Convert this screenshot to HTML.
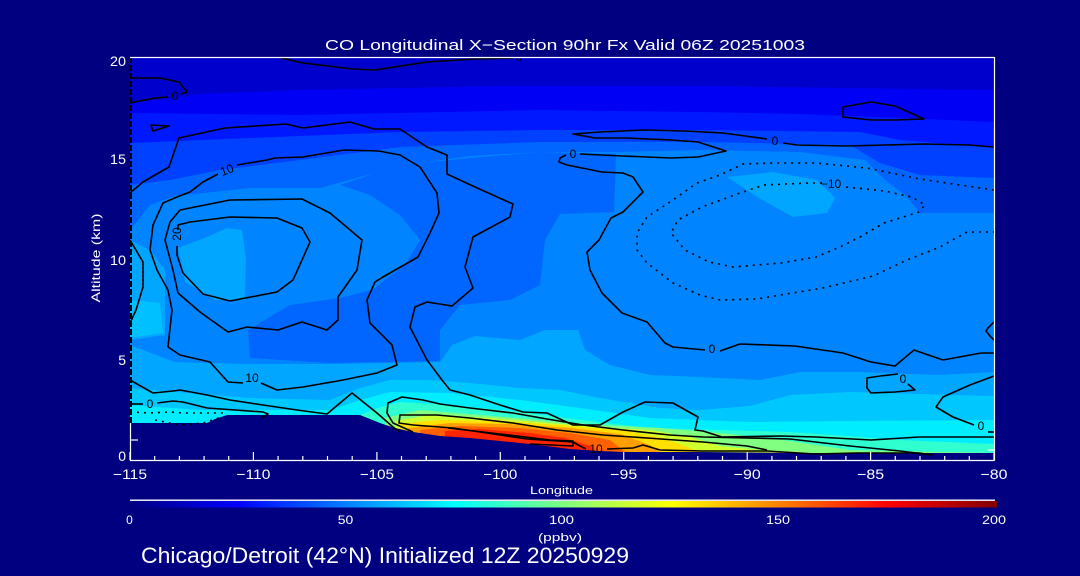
<!DOCTYPE html>
<html><head><meta charset="utf-8"><style>
html,body{margin:0;padding:0;background:#000080;}
svg{display:block;}
text{font-family:"Liberation Sans",sans-serif;}
</style></head><body>
<svg xmlns="http://www.w3.org/2000/svg" width="1080" height="576" viewBox="0 0 1080 576">
<defs>
<clipPath id="pc"><rect x="130" y="57" width="864" height="403"/></clipPath>
<linearGradient id="jet" x1="0" y1="0" x2="1" y2="0">
<stop offset="0" stop-color="#000080"/><stop offset="0.125" stop-color="#0000ff"/>
<stop offset="0.375" stop-color="#00ffff"/><stop offset="0.625" stop-color="#ffff00"/>
<stop offset="0.875" stop-color="#ff0000"/><stop offset="1" stop-color="#800000"/>
</linearGradient>
</defs>
<rect width="1080" height="576" fill="#000080"/>
<g clip-path="url(#pc)">
<rect x="130" y="57" width="864" height="403" fill="#0084ff"/>
<polygon fill="#00a6ff" points="130,345 175,362 250,364 330,364 440,362 452,345 475,336 520,340 545,330 578,330 585,350 610,365 650,375 700,377 760,380 800,372 860,372 940,375 994,372 994,460 130,460"/>
<polygon fill="#00c8ff" points="130,388 175,392 250,398 330,400 360,388 390,380 430,380 470,383 520,388 560,390 600,398 660,408 700,410 750,406 790,395 850,392 920,394 994,396 994,460 130,460"/>
<polygon fill="#00ecff" points="130,405 200,410 260,410 330,410 360,400 390,392 450,393 520,400 580,408 650,418 750,422 850,421 994,420 994,460 130,460"/>
<polygon fill="#30ffd0" points="360,415 378,408 400,402 450,405 520,412 580,420 650,428 720,430 790,432 900,440 994,444 994,460 360,460"/>
<polygon fill="#80ff80" points="385,418 420,410 480,415 540,420 600,425 660,428 720,433 790,441 850,450 994,453 994,460 385,460"/>
<polygon fill="#d0ff30" points="395,421 430,415 490,418 550,423 610,428 650,430 690,437 720,446 760,450 800,452 830,455 830,460 395,460"/>
<polygon fill="#ffe000" points="400,424 440,420 500,421 560,425 620,430 660,437 690,448 700,452 700,460 400,460"/>
<polygon fill="#ffa000" points="408,428 450,423 510,424 570,428 620,434 650,445 660,452 660,460 408,460"/>
<polygon fill="#ff6000" points="420,430 460,426 520,428 570,433 610,440 625,452 625,460 420,460"/>
<polygon fill="#ff2400" points="445,431 480,429 530,433 565,438 590,446 597,452 597,460 445,460"/>
<polygon fill="#00a6ff" points="130,240 150,250 165,270 165,335 130,340"/>
<polygon fill="#00c0ff" points="130,300 160,303 163,333 130,338"/>
<polygon fill="#00a6ff" points="178,248 207,237 227,228 242,230 246,260 245,300 215,300 185,282"/>
<polygon fill="#00a6ff" points="727,177 773,172 817,180 835,198 827,213 793,217 757,197"/>
<polygon fill="#00a6ff" points="396,160 412,157 427,160 420,166 400,165"/>
<polygon fill="#0066ff" points="340,185 400,165 470,158 540,152 616,154 614,212 560,214 545,240 540,285 510,300 460,305 440,330 440,361 330,363 250,358 248,330 290,305 340,298 372,290 405,265 420,240 400,215 370,195"/>
<polygon fill="#0066ff" points="130,57 994,57 994,213 920,213 905,195 885,180 865,160 800,152 700,150 616,152 540,152 470,156 420,163 360,177 320,188 250,188 175,196 150,205 130,230"/>
<polygon fill="#0040ff" points="130,57 994,57 994,178 920,175 880,163 850,145 700,142 540,142 400,147 300,160 220,170 170,180 130,185"/>
<polygon fill="#0018ff" points="130,57 994,57 994,148 900,140 860,132 700,130 540,130 400,132 250,138 130,143"/>
<polygon fill="#0000f4" points="130,57 994,57 994,122 900,118 800,114 700,112 540,110 300,115 130,113"/>
<polygon fill="#0000cc" points="130,57 994,57 994,90 700,86 500,86 300,90 200,94 160,100 130,102"/>
<polygon fill="#000080" points="130,423 207,423 215,419 227,415 360,415 370,419 380,423 395,428 413,432 440,436 470,438 500,441 530,444 570,449 600,451 623,452 700,452 800,453 994,453 994,461 130,461"/>
<g fill="none" stroke="#000" stroke-width="1.6" stroke-linejoin="round">
<line x1="131" y1="57" x2="131" y2="423" stroke-width="2" stroke-dasharray="6 2"/>
<polyline points="130,78 160,78 179,82 187,92 181,94"/>
<polyline points="168,97 155,98 130,103"/>
<polygon points="151,125 169,126 153,131"/>
<polyline points="281,58 303,63 353,69 375,70 427,62 475,59 513,58"/>
<polyline points="130,193 143,182 169,167 179,138 225,128 286,124 303,128 350,122 374,129 400,129 427,147 447,155 447,174 475,187 513,204 510,217 473,237 465,267 473,288 452,306 427,302 415,307 410,327 427,360 442,380 450,390 470,395 500,405 523,412 547,413 573,425 600,425 623,412 645,402 673,403 698,417 695,430 703,431 722,437 781,436 816,437 871,440 919,437 994,437"/>
<polyline points="218,174 203,182 190,192 177,197 163,203 153,225 150,250 157,270 168,290 172,310 168,347 180,355 210,362 228,382 243,383"/>
<polyline points="237,165 267,160 275,158 303,157 344,150 379,151 400,155 420,167 437,193 439,213 430,233 418,257 383,277 375,282 367,300 370,323 392,345 397,365 377,373 343,380 303,387 277,390 261,383"/>
<polygon points="165,240 170,222 180,210 230,200 302,199 330,213 362,240 357,270 338,297 338,320 327,330 302,322 278,330 247,327 228,332 200,312 178,293 173,270"/>
<polyline points="178,230 178,225 190,222 230,217 277,218 302,228 310,242 302,260 293,280 277,292 230,301 203,294 183,273 177,255 177,246"/>
<polyline points="130,240 143,262 143,287 136,310 130,323"/>
<polyline points="130,380 153,393 173,391 180,390 207,395 230,400 263,405 297,410 327,414 352,393 377,413 393,427 400,432"/>
<polyline points="157,403 173,401 183,402 207,408 263,412 268,414 262,418"/>
<polyline points="130,404 143,404"/>
<polyline points="994,147 969,145 924,144 847,146 797,145 783,143"/>
<polyline points="767,139 723,133 685,131 643,130 600,132 573,134 595,138 626,138 671,140 698,142 726,151 698,157 671,158 623,156 580,154"/>
<polyline points="566,155 560,158 559,162 567,165 602,172 623,173 633,177 643,192 623,212 611,218 599,240 587,252 590,270 602,293 622,313 647,322 665,343 673,347 705,350"/>
<polyline points="720,351 740,344 795,346 843,353 871,362 895,366 914,350 943,360 981,353 994,353"/>
<polygon points="843,107 871,102 895,106 924,119 895,120 871,120 843,117"/>
<polyline points="898,374 880,376 867,378 867,388 871,393 895,392 915,390 908,384"/>
<polyline points="994,376 970,385 943,397 936,407 953,417 974,425"/>
<polyline points="988,432 994,432"/>
<polyline points="994,322 988,328 986,331 990,336 994,340"/>
<polyline points="413,432 393,423 387,413 388,403 402,397 423,400 440,404 470,408 513,413 547,419 583,425 623,430 670,435 703,437 747,438 790,439 850,446 900,451 932,455"/>
<polyline points="413,425 399,423 400,415 437,415 470,418 513,423 557,430 603,435 647,438 703,442 747,446 767,450"/>
<polyline points="413,425 453,428 487,433 527,439 573,442 580,446 586,449"/>
<polyline points="607,449 633,448 643,445 650,447 660,450 703,451 767,451 815,454 857,453 919,453 933,455"/>
<polyline points="448,428 500,434 550,440 573,441 573,446 530,444"/>
</g>
<g fill="none" stroke="#000" stroke-width="1.6" stroke-dasharray="2 5">
<polyline points="822,183 809,183 764,185 740,193 702,207 678,220 671,233 685,250 709,262 733,267 781,263 816,257 840,247 860,237 884,223 919,212 925,205 912,197 884,191 846,187"/>
<polyline points="994,190 920,179 867,168 816,163 774,163 743,164 720,175 697,183 673,200 647,217 637,233 637,250 647,263 673,283 700,295 720,300 757,299 780,295 823,288 873,276 907,260 940,247 967,232 994,232"/>
<polyline points="130,412 150,413 170,412 183,413 207,413 227,413"/>
<polyline points="155,420 180,425 203,423 222,417"/>
</g>
<g font-size="12" fill="#000">
<text x="175" y="100" text-anchor="middle">0</text>
<text x="519" y="61" text-anchor="middle">0</text>
<text x="227" y="174" text-anchor="middle" transform="rotate(-22 227 170)">10</text>
<text x="182" y="241" text-anchor="middle" transform="rotate(-90 178 238)">20</text>
<text x="252" y="382" text-anchor="middle">10</text>
<text x="150" y="408" text-anchor="middle">0</text>
<text x="573" y="158" text-anchor="middle">0</text>
<text x="775" y="145" text-anchor="middle">0</text>
<text x="831" y="188" text-anchor="middle">−10</text>
<text x="712" y="353" text-anchor="middle">0</text>
<text x="903" y="383" text-anchor="middle">0</text>
<text x="981" y="430" text-anchor="middle">0</text>
<text x="596" y="453" text-anchor="middle">10</text>
</g>
</g>
<g stroke="#fff" stroke-width="1.2" fill="none">
<line x1="130" y1="57.5" x2="994.5" y2="57.5"/>
<line x1="994.5" y1="57" x2="994.5" y2="460.5"/>
<line x1="130" y1="460.5" x2="994.5" y2="460.5"/>
<line x1="130.5" y1="423" x2="130.5" y2="460.5"/>
<line x1="130" y1="440" x2="138" y2="440"/>
<line x1="988" y1="450" x2="994" y2="450"/>
<path d="M130,460V452M253.4,460V452M376.9,460V452M500.3,460V452M623.7,460V452M747.2,460V452M870.6,460V452M994,460V452
M154.7,460V456M179.4,460V456M204.1,460V456M228.7,460V456M278.1,460V456M302.8,460V456M327.5,460V456M352.2,460V456
M401.5,460V456M426.2,460V456M450.9,460V456M475.6,460V456M525,460V456M549.7,460V456M574.4,460V456M599,460V456
M648.4,460V456M673.1,460V456M697.8,460V456M722.5,460V456M771.9,460V456M796.5,460V456M821.2,460V456M845.9,460V456
M895.3,460V456M920,460V456M944.7,460V456M969.3,460V456"/>
</g>
<g fill="#fff">
<text x="565" y="50" font-size="15" text-anchor="middle" textLength="480" lengthAdjust="spacingAndGlyphs">CO Longitudinal X−Section 90hr  Fx Valid 06Z 20251003</text>
<g font-size="14" text-anchor="end">
<text x="126" y="66" textLength="16" lengthAdjust="spacingAndGlyphs">20</text>
<text x="126" y="164" textLength="16" lengthAdjust="spacingAndGlyphs">15</text>
<text x="126" y="265" textLength="16" lengthAdjust="spacingAndGlyphs">10</text>
<text x="126" y="365">5</text>
<text x="126" y="461">0</text>
</g>
<g font-size="14" text-anchor="middle">
<text x="130" y="479" textLength="34" lengthAdjust="spacingAndGlyphs">−115</text>
<text x="253.4" y="479" textLength="34" lengthAdjust="spacingAndGlyphs">−110</text>
<text x="376.9" y="479" textLength="34" lengthAdjust="spacingAndGlyphs">−105</text>
<text x="500.3" y="479" textLength="34" lengthAdjust="spacingAndGlyphs">−100</text>
<text x="623.7" y="479" textLength="27" lengthAdjust="spacingAndGlyphs">−95</text>
<text x="747.2" y="479" textLength="27" lengthAdjust="spacingAndGlyphs">−90</text>
<text x="870.6" y="479" textLength="27" lengthAdjust="spacingAndGlyphs">−85</text>
<text x="994" y="479" textLength="27" lengthAdjust="spacingAndGlyphs">−80</text>
</g>
<text x="561.5" y="494" font-size="11" text-anchor="middle" textLength="63" lengthAdjust="spacingAndGlyphs">Longitude</text>
<text transform="translate(100,258) rotate(-90)" x="0" y="0" font-size="12" text-anchor="middle" textLength="89" lengthAdjust="spacingAndGlyphs">Altitude (km)</text>
<rect x="130" y="499.5" width="865" height="1.4"/>
<rect x="130" y="501" width="867" height="6.5" fill="url(#jet)"/>
<g font-size="12" text-anchor="middle">
<text x="129.5" y="524">0</text>
<text x="345.5" y="524" textLength="15.5" lengthAdjust="spacingAndGlyphs">50</text>
<text x="561.5" y="524" textLength="25" lengthAdjust="spacingAndGlyphs">100</text>
<text x="778" y="524" textLength="24" lengthAdjust="spacingAndGlyphs">150</text>
<text x="994" y="524" textLength="24" lengthAdjust="spacingAndGlyphs">200</text>
</g>
<text x="560" y="541" font-size="11" text-anchor="middle" textLength="44" lengthAdjust="spacingAndGlyphs">(ppbv)</text>
<text x="141" y="563" font-size="22" textLength="488" lengthAdjust="spacingAndGlyphs">Chicago/Detroit (42°N) Initialized 12Z 20250929</text>
</g>
</svg>
</body></html>
